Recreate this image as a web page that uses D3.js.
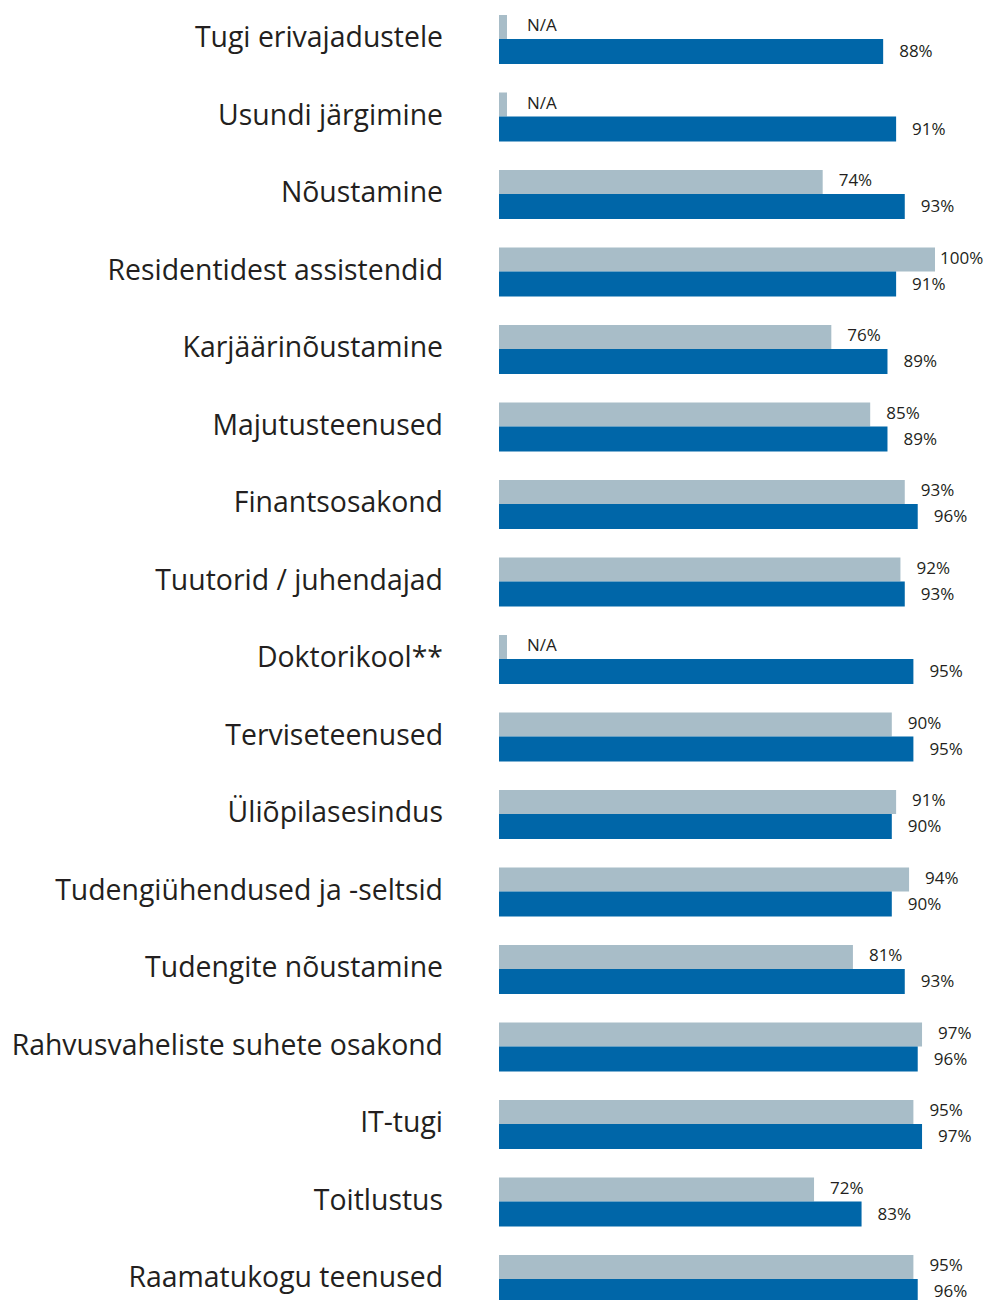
<!DOCTYPE html>
<html>
<head>
<meta charset="utf-8">
<script src="https://cdn.jsdelivr.net/npm/d3@7"></script>
<style>
  body { margin: 0; background: #fff; }
  text { font-family: "Open Sans", "Noto Sans", sans-serif; fill: #231f20; }
</style>
</head>
<body>
<script>
var categories = ["Tugi erivajadustele", "Usundi järgimine", "Nõustamine", "Residentidest assistendid",
  "Karjäärinõustamine", "Majutusteenused", "Finantsosakond", "Tuutorid / juhendajad", "Doktorikool**",
  "Terviseteenused", "Üliõpilasesindus", "Tudengiühendused ja -seltsid", "Tudengite nõustamine",
  "Rahvusvaheliste suhete osakond", "IT-tugi", "Toitlustus", "Raamatukogu teenused"];
// grey (previous) series, null = N/A
var greyValues = [null, null, 74, 100, 76, 85, 93, 92, null, 90, 91, 94, 81, 97, 95, 72, 95];
// blue (current) series
var blueValues = [88, 91, 93, 91, 89, 89, 96, 93, 95, 95, 90, 90, 93, 96, 97, 83, 96];

var width = 984, height = 1300;
var barLeft = 499;

var svg = d3.select('body').append('svg').attr('width', width).attr('height', height);

var x = d3.scaleLinear().domain([0, 100]).range([503, 935]);
var y = d3.scaleBand().domain(categories).range([15, 15 + 77.5 * categories.length]).padding(0);

var rows = svg.selectAll('g.row')
  .data(categories)
  .enter().append('g')
    .attr('class', 'row')
    .attr('transform', function(d) { return 'translate(0,' + y(d) + ')'; });

// category labels
rows.append('text')
  .attr('x', 443)
  .attr('y', 32)
  .attr('text-anchor', 'end')
  .style('font-size', '28.4px')
  .text(function(d) { return d; });

// grey bars
rows.append('rect')
  .attr('x', barLeft)
  .attr('y', 0)
  .attr('height', 24)
  .attr('width', function(d, i) { return greyValues[i] == null ? 8 : x(greyValues[i]) - barLeft; })
  .attr('fill', '#a8bdc8');

rows.append('text')
  .attr('x', function(d, i) {
    var v = greyValues[i];
    return v == null ? barLeft + 28 : Math.min(x(v) + 16, 940);
  })
  .attr('y', 16)
  .style('font-size', '17px')
  .text(function(d, i) { return greyValues[i] == null ? 'N/A' : greyValues[i] + '%'; });

// blue bars
rows.append('rect')
  .attr('x', barLeft)
  .attr('y', 24)
  .attr('height', 25)
  .attr('width', function(d, i) { return x(blueValues[i]) - barLeft; })
  .attr('fill', '#0066a8');

rows.append('text')
  .attr('x', function(d, i) { return Math.min(x(blueValues[i]) + 16, 940); })
  .attr('y', 42)
  .style('font-size', '17px')
  .text(function(d, i) { return blueValues[i] + '%'; });
</script>
</body>
</html>
